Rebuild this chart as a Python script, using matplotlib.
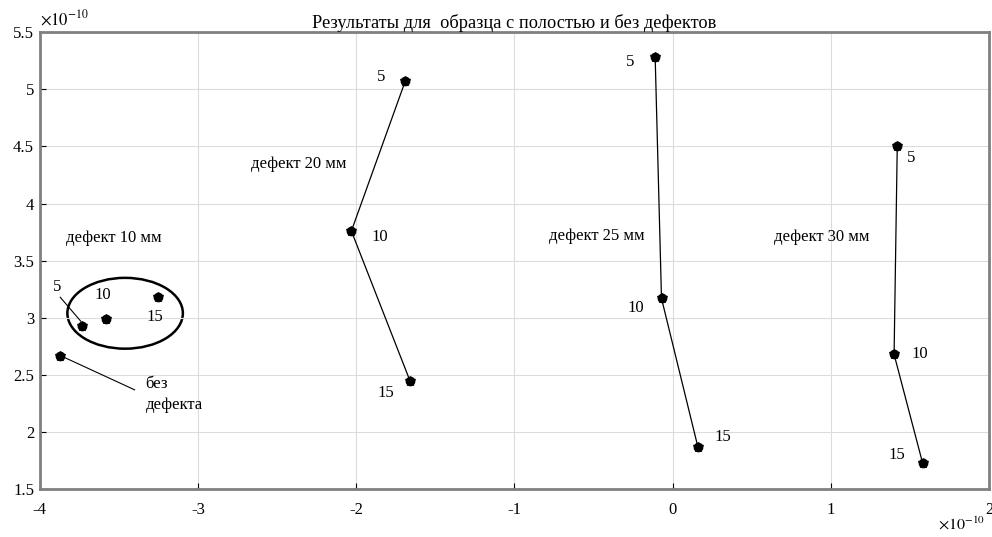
import matplotlib.pyplot as plt
from matplotlib.patches import Ellipse
from matplotlib.ticker import FuncFormatter

plt.rcParams['font.family'] = ['Liberation Serif', 'DejaVu Serif']
plt.rcParams['mathtext.fontset'] = 'stix'

# values in units of 1e-10
no_defect = (-3.87, 2.67)
d10_x = [-3.73, -3.58, -3.25]
d10_y = [2.93, 2.99, 3.18]
d20_x = [-1.69, -2.03, -1.66]
d20_y = [5.07, 3.76, 2.45]
d25_x = [-0.11, -0.07, 0.16]
d25_y = [5.28, 3.17, 1.87]
d30_x = [1.42, 1.40, 1.58]
d30_y = [4.50, 2.68, 1.73]
sizes = ['5', '10', '15']

fig = plt.figure(figsize=(9.92, 5.37), dpi=100)
ax = fig.add_axes([0.040, 0.089, 0.957, 0.851])

def mark(x, y):
    ax.plot(x, y, 'o', color='black', ms=6, zorder=3)
    ax.plot(x, y, '*', color='black', ms=7, zorder=3)

for xs, ys in [(d20_x, d20_y), (d25_x, d25_y), (d30_x, d30_y)]:
    ax.plot(xs, ys, '-', color='black', lw=0.9)
    mark(xs, ys)
mark(d10_x, d10_y)
mark([no_defect[0]], [no_defect[1]])

fs = 12
kw = dict(fontsize=fs, ha='center', va='center')
# defect 10 group
ax.add_patch(Ellipse((-3.46, 3.04), 0.73, 0.62, fill=False, ec='black', lw=1.8))
ax.text(-3.89, 3.27, sizes[0], **kw)
ax.plot([-3.87, -3.74], [3.18, 2.97], color='black', lw=0.8)
ax.text(-3.60, 3.20, sizes[1], **kw)
ax.text(-3.27, 3.01, sizes[2], **kw)
ax.text(-3.53, 3.70, 'дефект 10 мм', **kw)
ax.plot([no_defect[0], -3.40], [no_defect[1], 2.37], color='black', lw=0.8)
ax.text(-3.33, 2.42, 'без', fontsize=fs, ha='left', va='center')
ax.text(-3.33, 2.24, 'дефекта', fontsize=fs, ha='left', va='center')

# defect 20
ax.text(-1.84, 5.11, sizes[0], **kw)
ax.text(-1.85, 3.71, sizes[1], **kw)
ax.text(-1.81, 2.34, sizes[2], **kw)
ax.text(-2.36, 4.35, 'дефект 20 мм', **kw)

# defect 25
ax.text(-0.27, 5.24, sizes[0], **kw)
ax.text(-0.23, 3.09, sizes[1], **kw)
ax.text(0.32, 1.96, sizes[2], **kw)
ax.text(-0.48, 3.72, 'дефект 25 мм', **kw)

# defect 30
ax.text(1.51, 4.40, sizes[0], **kw)
ax.text(1.56, 2.68, sizes[1], **kw)
ax.text(1.42, 1.80, sizes[2], **kw)
ax.text(0.94, 3.71, 'дефект 30 мм', **kw)

ax.set_xlim(-4, 2)
ax.set_ylim(1.5, 5.5)
ax.set_xticks([-4, -3, -2, -1, 0, 1, 2])
ax.set_yticks([1.5, 2, 2.5, 3, 3.5, 4, 4.5, 5, 5.5])
fmt = FuncFormatter(lambda v, p: ('%g' % v))
ax.xaxis.set_major_formatter(fmt)
ax.yaxis.set_major_formatter(fmt)
ax.tick_params(direction='in', length=4, labelsize=fs)
ax.tick_params(axis='x', pad=9)
ax.tick_params(axis='y', pad=4)
ax.grid(True, color='#dcdcdc', lw=0.8)
for s in ['left', 'bottom', 'top', 'right']:
    ax.spines[s].set_linewidth(2.0)
    ax.spines[s].set_color('#808080')

ax.set_title('Результаты для  образца с полостью и без дефектов', fontsize=13.2, pad=3)
ax.text(0.0, 1.008, r'$\times10^{-10}$', transform=ax.transAxes, fontsize=fs, va='bottom')
fig.text(0.993, 0.022, r'$\times10^{-10}$', fontsize=11.5, ha='right', va='center')

fig.savefig('out.png', dpi=100)
